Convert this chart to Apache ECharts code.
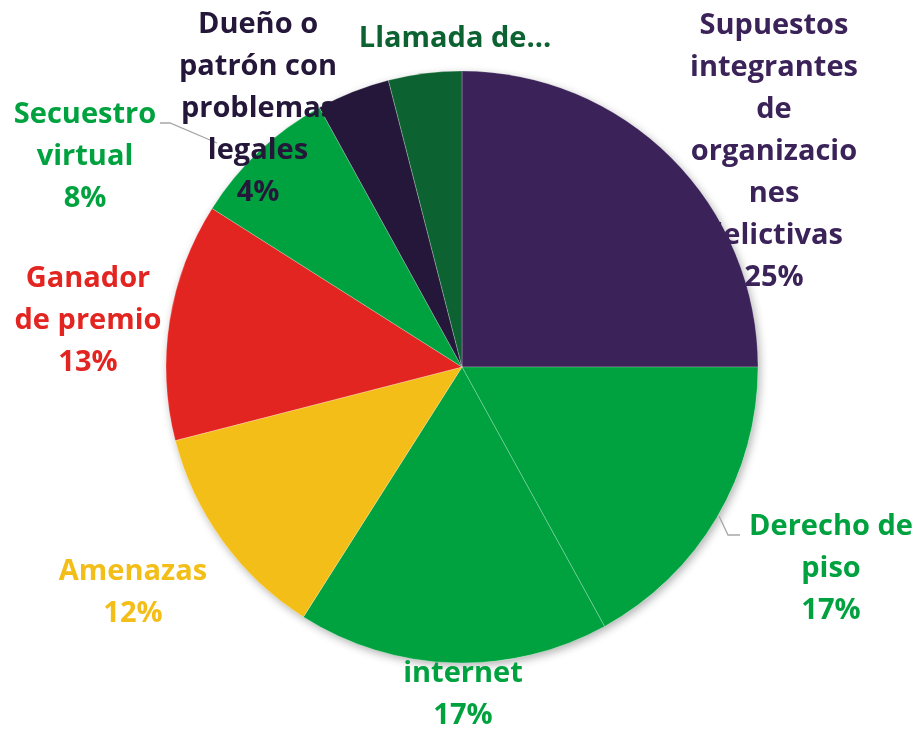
<!DOCTYPE html>
<html>
<head>
<meta charset="utf-8">
<script src="https://cdn.jsdelivr.net/npm/echarts@6/dist/echarts.min.js"></script>
<style>
  html, body { margin: 0; padding: 0; background: #fff; }
  #main { width: 918px; height: 729px; }
</style>
</head>
<body>
<div id="main"></div>
<script>
// datos
var categorias = [
    'Supuestos integrantes de organizaciones delictivas',
    'Derecho de piso',
    'internet',
    'Amenazas',
    'Ganador de premio',
    'Secuestro virtual',
    'Dueño o patrón con problemas legales',
    'Llamada de...'
];
var valores = [25, 17, 17, 12, 13, 8, 4, 4];
// texto de las etiquetas tal como se ve (con cortes de linea)
var etiquetas = [
    'Supuestos\nintegrantes\nde\norganizacio\nnes\ndelictivas',
    'Derecho de\npiso',
    'internet',
    'Amenazas',
    'Ganador\nde premio',
    'Secuestro\nvirtual',
    'Dueño o\npatrón con\nproblemas\nlegales',
    'Llamada de...'
];
var mostrarPct = [true, true, true, true, true, true, true, false];

var colores = ['#3b2359', '#00a23f', '#00a23f', '#f3be18', '#e32521', '#00a23f', '#24173a', '#0c6331'];
var coloresTexto = ['#3b2359', '#00a23f', '#00a23f', '#f3be18', '#e32521', '#00a23f', '#24173a', '#0c6331'];

// posiciones de las etiquetas (centro) y lineas guia
var posEtiqueta = [[774, 152], [831, 569], [463, 695], [133, 593], [88, 321], [85, 157], [258, 109], [455, 39]];
var lineaGuia = {
    1: [[719, 516], [728, 535], [740, 535]],
    5: [[217, 143], [170, 123], [160, 123]]
};

var myChart = echarts.init(document.getElementById('main'));

var datos = [];
for (var i = 0; i < valores.length; i++) {
    datos.push({
        name: categorias[i],
        value: valores[i],
        itemStyle: { color: colores[i] },
        label: { color: coloresTexto[i] },
        labelLine: { show: !!lineaGuia[i] }
    });
}

var option = {
    animation: false,
    series: [
        {
            // sombra debajo del pastel
            type: 'pie',
            z: 1,
            silent: true,
            center: [462, 367],
            radius: 296,
            label: { show: false },
            labelLine: { show: false },
            itemStyle: {
                color: '#fff',
                shadowBlur: 8,
                shadowOffsetX: 2,
                shadowOffsetY: 3,
                shadowColor: 'rgba(0,0,0,0.3)'
            },
            data: [{ value: 1, name: '' }]
        },
        {
            type: 'pie',
            z: 2,
            center: [462, 367],
            radius: 296,
            startAngle: 90,
            clockwise: true,
            avoidLabelOverlap: false,
            itemStyle: {
                borderColor: 'rgba(255,255,255,0.45)',
                borderWidth: 0.5
            },
            label: {
                show: true,
                position: 'outside',
                fontFamily: 'Open Sans',
                fontWeight: 'bold',
                fontSize: 29,
                lineHeight: 42,
                formatter: function (p) {
                    var t = etiquetas[p.dataIndex];
                    if (mostrarPct[p.dataIndex]) {
                        t += '\n' + Math.round(p.percent) + '%';
                    }
                    return t;
                }
            },
            labelLine: {
                show: false,
                lineStyle: { color: '#a6a6a6', width: 1.3 }
            },
            labelLayout: function (p) {
                var pos = posEtiqueta[p.dataIndex];
                var out = { x: pos[0], y: pos[1], align: 'center', verticalAlign: 'middle' };
                if (lineaGuia[p.dataIndex]) {
                    out.labelLinePoints = lineaGuia[p.dataIndex];
                }
                return out;
            },
            data: datos
        }
    ]
};

myChart.setOption(option);
</script>
</body>
</html>
